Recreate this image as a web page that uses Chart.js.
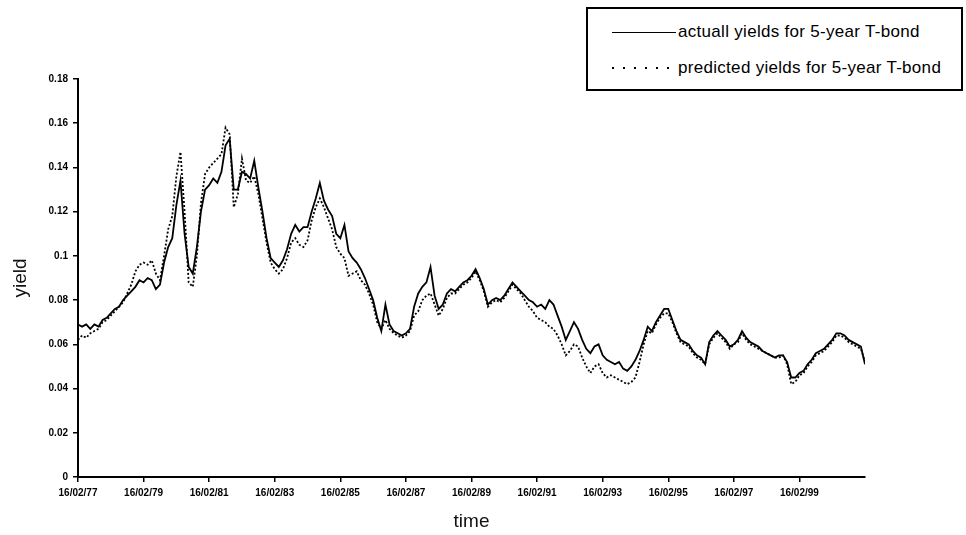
<!DOCTYPE html>
<html>
<head>
<meta charset="utf-8">
<title>5-year T-bond yields</title>
<script src="https://cdn.jsdelivr.net/npm/chart.js@4.4.1/dist/chart.umd.min.js"></script>
<style>
  html, body { margin: 0; padding: 0; background: #fff; }
  #wrap { position: relative; width: 966px; height: 535px; }
  #chart { position: absolute; left: 0; top: 0; }
  #legend {
    position: absolute; left: 586px; top: 7px; width: 373px; height: 80px;
    border: 2px solid #000; background: #fff;
    font-family: Arial, "Liberation Sans", sans-serif; font-size: 17px; letter-spacing: 0.3px; color: #000;
  }
  #legend .row { position: absolute; left: 24px; height: 20px; display: flex; align-items: center; white-space: nowrap; }
  #legend svg { display: block; margin-right: 2px; }
</style>
</head>
<body>
<div id="wrap">
  <canvas id="chart" width="966" height="535"></canvas>
  <div id="legend"></div>
</div>
<script>
// Sampling: one observation every 1/8 year starting 16/02/77
const sampleStepYears = 0.125;

const xTickLabels = ['16/02/77', '16/02/79', '16/02/81', '16/02/83', '16/02/85', '16/02/87',
                     '16/02/89', '16/02/91', '16/02/93', '16/02/95', '16/02/97', '16/02/99'];

const seriesNames = ['actuall yields for 5-year T-bond', 'predicted yields for 5-year T-bond'];

const actualYield = [
  0.069, 0.068, 0.069, 0.067, 0.069, 0.068, 0.071, 0.072,
  0.074, 0.076, 0.077, 0.080, 0.082, 0.084, 0.086, 0.089,
  0.088, 0.090, 0.089, 0.085, 0.087, 0.097, 0.104, 0.108,
  0.123, 0.134, 0.110, 0.095, 0.092, 0.104, 0.120, 0.130,
  0.132, 0.135, 0.133, 0.138, 0.150, 0.153, 0.130, 0.130,
  0.138, 0.137, 0.135, 0.143, 0.131, 0.120, 0.108, 0.099,
  0.097, 0.095, 0.098, 0.103, 0.110, 0.114, 0.111, 0.113,
  0.113, 0.120, 0.126, 0.133, 0.125, 0.121, 0.118, 0.110,
  0.108, 0.114, 0.102, 0.099, 0.097, 0.094, 0.090, 0.085,
  0.080, 0.072, 0.066, 0.078, 0.069, 0.066, 0.065, 0.064,
  0.065, 0.067, 0.077, 0.083, 0.086, 0.088, 0.095, 0.082,
  0.076, 0.078, 0.083, 0.085, 0.084, 0.086, 0.088, 0.089,
  0.091, 0.094, 0.090, 0.085, 0.078, 0.080, 0.081, 0.080,
  0.082, 0.085, 0.088, 0.086, 0.084, 0.082, 0.080, 0.079,
  0.077, 0.078, 0.076, 0.080, 0.078, 0.073, 0.068, 0.062,
  0.066, 0.070, 0.067, 0.062, 0.058, 0.056, 0.059, 0.060,
  0.055, 0.053, 0.052, 0.051, 0.052, 0.049, 0.048, 0.050,
  0.053, 0.057, 0.062, 0.068, 0.066, 0.070, 0.073, 0.076,
  0.076, 0.071, 0.066, 0.062, 0.061, 0.060, 0.057, 0.055,
  0.054, 0.051, 0.061, 0.064, 0.066, 0.064, 0.062, 0.059,
  0.060, 0.062, 0.066, 0.063, 0.061, 0.060, 0.059, 0.057,
  0.056, 0.055, 0.054, 0.055, 0.055, 0.052, 0.045, 0.045,
  0.047, 0.048, 0.051, 0.053, 0.056, 0.057, 0.058, 0.060,
  0.062, 0.065, 0.065, 0.064, 0.062, 0.061, 0.060, 0.059,
  0.051
];

const predictedYield = [
  0.062, 0.064, 0.063, 0.065, 0.066, 0.067, 0.070, 0.071,
  0.073, 0.075, 0.077, 0.079, 0.083, 0.087, 0.093, 0.096,
  0.097, 0.096, 0.098, 0.092, 0.089, 0.100, 0.112, 0.118,
  0.136, 0.147, 0.120, 0.088, 0.086, 0.100, 0.124, 0.137,
  0.140, 0.142, 0.144, 0.146, 0.158, 0.155, 0.122, 0.128,
  0.144, 0.134, 0.133, 0.136, 0.128, 0.117, 0.106, 0.097,
  0.094, 0.092, 0.094, 0.099, 0.106, 0.108, 0.105, 0.104,
  0.107, 0.116, 0.122, 0.126, 0.122, 0.117, 0.112, 0.104,
  0.101, 0.099, 0.091, 0.092, 0.093, 0.089, 0.087, 0.083,
  0.078, 0.070, 0.067, 0.071, 0.067, 0.065, 0.064, 0.063,
  0.064, 0.066, 0.073, 0.075, 0.080, 0.082, 0.083, 0.078,
  0.073, 0.076, 0.081, 0.083, 0.083, 0.085, 0.087, 0.088,
  0.090, 0.093, 0.089, 0.084, 0.077, 0.079, 0.080, 0.079,
  0.081, 0.084, 0.087, 0.085, 0.083, 0.080, 0.077, 0.075,
  0.072, 0.071, 0.070, 0.068, 0.067, 0.064, 0.060, 0.055,
  0.057, 0.060, 0.059, 0.054, 0.050, 0.047, 0.050, 0.051,
  0.047, 0.045, 0.046, 0.045, 0.044, 0.043, 0.042, 0.043,
  0.045, 0.052, 0.060, 0.066, 0.065, 0.069, 0.072, 0.074,
  0.074, 0.070, 0.065, 0.061, 0.060, 0.059, 0.056, 0.054,
  0.053, 0.051, 0.060, 0.063, 0.065, 0.063, 0.061, 0.058,
  0.060, 0.061, 0.065, 0.062, 0.060, 0.059, 0.058, 0.057,
  0.056, 0.055, 0.054, 0.054, 0.055, 0.051, 0.042, 0.043,
  0.046, 0.047, 0.050, 0.052, 0.055, 0.056, 0.057, 0.059,
  0.061, 0.064, 0.064, 0.063, 0.061, 0.060, 0.059, 0.058,
  0.052
];

// pair each yield with its time (years after the first observation)
const toPoints = (ys) => ys.map((y, i) => ({ x: i * sampleStepYears, y: y }));

const tickFont = { family: 'Arial, "Liberation Sans", sans-serif', size: 10, weight: 'bold' };
const titleFont = { family: 'Arial, "Liberation Sans", sans-serif', size: 19, weight: 'normal' };

const chart = new Chart(document.getElementById('chart'), {
  type: 'line',
  data: {
    datasets: [
      {
        label: seriesNames[0],
        data: toPoints(actualYield),
        borderColor: '#000',
        borderWidth: 1.8,
        pointRadius: 0,
        tension: 0,
        fill: false
      },
      {
        label: seriesNames[1],
        data: toPoints(predictedYield),
        borderColor: '#000',
        borderWidth: 1.8,
        borderDash: [2, 2],
        pointRadius: 0,
        tension: 0,
        fill: false
      }
    ]
  },
  options: {
    responsive: false,
    animation: false,
    devicePixelRatio: 1,
    layout: { padding: { top: 79, right: 101, bottom: 0, left: 0 } },
    plugins: { legend: { display: false }, tooltip: { enabled: false } },
    scales: {
      x: {
        type: 'linear',
        min: 0,
        max: 24,
        afterFit: (scale) => { scale.height = 58; },
        afterBuildTicks: (scale) => { scale.ticks = scale.ticks.filter(t => t.value < 24); },
        ticks: {
          stepSize: 2,
          autoSkip: false,
          maxRotation: 0,
          color: '#000',
          font: tickFont,
          padding: 5,
          callback: (v) => xTickLabels[Math.round(v / 2)]
        },
        grid: { drawOnChartArea: false, drawTicks: true, tickLength: 5, color: '#000', lineWidth: 1.5 },
        border: { display: true, color: '#000', width: 2 },
        title: { display: true, text: 'time', color: '#111', font: titleFont, padding: { top: 0, bottom: 2 } }
      },
      y: {
        min: 0,
        max: 0.18,
        afterFit: (scale) => { scale.width = 78; },
        ticks: {
          stepSize: 0.02,
          color: '#000',
          font: tickFont,
          padding: 5,
          callback: (v) => String(Number(v.toFixed(2)))
        },
        grid: { drawOnChartArea: false, drawTicks: true, tickLength: 5, color: '#000', lineWidth: 1.5 },
        border: { display: true, color: '#000', width: 2 },
        title: { display: true, text: 'yield', color: '#111', font: titleFont, padding: { top: 9, bottom: 0 } }
      }
    }
  }
});

// boxed legend built from the chart's own datasets
const legendEl = document.getElementById('legend');
chart.data.datasets.forEach((ds, i) => {
  const row = document.createElement('div');
  row.className = 'row';
  row.style.top = (i === 0 ? 13 : 49) + 'px';
  const svgNS = 'http://www.w3.org/2000/svg';
  const svg = document.createElementNS(svgNS, 'svg');
  svg.setAttribute('width', '64');
  svg.setAttribute('height', '6');
  const line = document.createElementNS(svgNS, 'line');
  const midY = ds.borderDash ? '3' : '3.5';
  line.setAttribute('x1', '0'); line.setAttribute('y1', midY);
  line.setAttribute('x2', '64'); line.setAttribute('y2', midY);
  line.setAttribute('stroke', '#000');
  line.setAttribute('stroke-width', ds.borderDash ? '2' : '1');
  line.setAttribute('shape-rendering', 'crispEdges');
  if (ds.borderDash) line.setAttribute('stroke-dasharray', '2 9');
  svg.appendChild(line);
  const txt = document.createElement('span');
  txt.textContent = ds.label;
  row.appendChild(svg);
  row.appendChild(txt);
  legendEl.appendChild(row);
});
</script>
</body>
</html>
